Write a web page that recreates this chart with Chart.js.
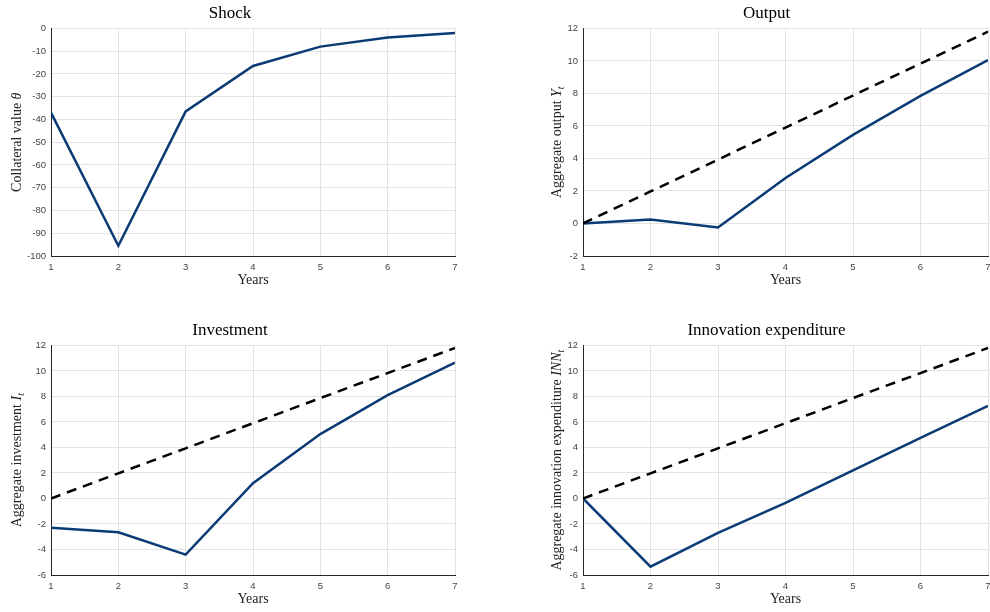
<!DOCTYPE html>
<html>
<head>
<meta charset="utf-8">
<script src="https://cdn.jsdelivr.net/npm/chart.js@4.4.1/dist/chart.umd.min.js"></script>
<style>
  body { margin: 0; background: #fff; }
  .panel { position: absolute; }
</style>
</head>
<body>
<div class="panel" style="left:0;top:0;width:495px;height:306px"><canvas id="shock"></canvas></div>
<div class="panel" style="left:495px;top:0;width:495px;height:306px"><canvas id="output"></canvas></div>
<div class="panel" style="left:0;top:317px;width:495px;height:295px"><canvas id="invest"></canvas></div>
<div class="panel" style="left:495px;top:317px;width:495px;height:295px"><canvas id="innov"></canvas></div>
<script>
// years on the x axis
var years = [1, 2, 3, 4, 5, 6, 7];

// impulse responses (solid)
var shockVals = [-37, -95.5, -36.5, -16.5, -8, -4, -2];
var outputVals = [0, 0.25, -0.25, 2.8, 5.45, 7.85, 10.05];
var investVals = [-2.3, -2.65, -4.4, 1.2, 5.05, 8.1, 10.65];
var innovVals = [0, -5.35, -2.7, -0.35, 2.2, 4.75, 7.25];

// dashed reference path
var trendVals = [0, 1.97, 3.93, 5.9, 7.87, 9.83, 11.8];

var blue = '#0b3b74';
var tickFont = { family: 'Liberation Sans, Arial, sans-serif', size: 9.5 };
var serif = 'Liberation Serif, "DejaVu Serif", serif';

function pts(vals) {
  return years.map((x, i) => ({ x: x, y: vals[i] }));
}

// y label drawn by hand so the math symbol can be italic with a subscript
// parts: [text, italic, subscript]
var mathLabel = {
  id: 'mathLabel',
  afterDraw(chart, args, opts) {
    var parts = opts.parts;
    if (!parts) return;
    var ctx = chart.ctx;
    var ys = chart.scales.y;
    var size = 14;
    var cx = ys.left + 4 + size * 1.2 / 2;
    var cy = (chart.chartArea.top + chart.chartArea.bottom) / 2;
    ctx.save();
    var fontOf = p => (p[1] ? 'italic ' : '') + (p[2] ? size * 0.7 : size) + 'px ' + serif;
    var total = 0;
    parts.forEach(p => { ctx.font = fontOf(p); total += ctx.measureText(p[0]).width; });
    ctx.translate(cx, cy);
    ctx.rotate(-Math.PI / 2);
    ctx.fillStyle = '#222';
    ctx.textBaseline = 'middle';
    ctx.textAlign = 'left';
    var x = -total / 2;
    parts.forEach(p => {
      ctx.font = fontOf(p);
      ctx.fillText(p[0], x, p[2] ? 4 : 0);
      x += ctx.measureText(p[0]).width;
    });
    ctx.restore();
  }
};

function makePanel(id, title, labelParts, ymin, ymax, step, solid, dashed, padLeft, yWidth, padRight, padBottom) {
  var datasets = [];
  if (dashed) {
    datasets.push({
      data: pts(dashed), borderColor: '#000', borderWidth: 2.5,
      borderDash: [10, 7], pointRadius: 0, fill: false, order: 1
    });
  }
  datasets.push({
    data: pts(solid), borderColor: blue, borderWidth: 2.5,
    pointRadius: 0, fill: false, order: 2
  });
  new Chart(document.getElementById(id), {
    type: 'line',
    data: { datasets: datasets },
    plugins: [mathLabel],
    options: {
      responsive: true,
      maintainAspectRatio: false,
      animation: false,
      layout: { padding: { left: padLeft, right: padRight, top: 0, bottom: padBottom } },
      plugins: {
        legend: { display: false },
        tooltip: { enabled: false },
        title: {
          display: true, text: title, color: '#000',
          font: { family: serif, size: 17, weight: 'normal' },
          padding: { top: 3, bottom: 5 }
        },
        mathLabel: { parts: labelParts }
      },
      scales: {
        x: {
          type: 'linear', min: 1, max: 7,
          ticks: { stepSize: 1, color: '#444', font: tickFont, padding: 6, maxRotation: 0 },
          grid: { color: '#e3e3e3', drawTicks: false },
          border: { color: '#262626', width: 1 },
          title: { display: true, text: 'Years', color: '#222', font: { family: serif, size: 14 }, padding: { top: 0, bottom: 4 } },
          afterFit: s => { s.height = 37; s.paddingRight = 0; s.paddingLeft = 0; }
        },
        y: {
          min: ymin, max: ymax,
          ticks: { stepSize: step, color: '#444', font: tickFont, padding: 5 },
          grid: { color: '#e3e3e3', drawTicks: false },
          border: { color: '#262626', width: 1 },
          title: { display: false },
          afterFit: s => { s.width = yWidth; s.paddingTop = 0; s.paddingBottom = 0; }
        }
      }
    }
  });
}

makePanel('shock', 'Shock', [['Collateral value ', false, false], ['θ', true, false]],
  -100, 0, 10, shockVals, null, 5, 46, 40, 13);
makePanel('output', 'Output', [['Aggregate output ', false, false], ['Y', true, false], ['t', true, true]],
  -2, 12, 2, outputVals, trendVals, 50, 38, 2, 13);
makePanel('invest', 'Investment', [['Aggregate investment ', false, false], ['I', true, false], ['t', true, true]],
  -6, 12, 2, investVals, trendVals, 5, 46, 40, 0);
makePanel('innov', 'Innovation expenditure', [['Aggregate innovation expenditure ', false, false], ['INN', true, false], ['t', true, true]],
  -6, 12, 2, innovVals, trendVals, 50, 38, 2, 0);
</script>
</body>
</html>
